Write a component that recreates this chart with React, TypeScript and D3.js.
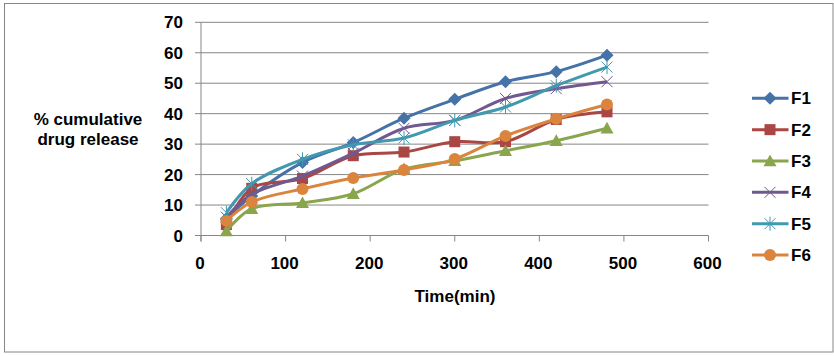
import React from "react";
import * as d3 from "d3";

const times = [30, 60, 120, 180, 240, 300, 360, 420, 480];
const F1 = [5.5, 13, 24, 30.5, 38.5, 44.7, 50.5, 53.8, 59.2];
const F2 = [3.6, 15.5, 18.7, 26.2, 27.4, 30.8, 30.8, 38.1, 40.6];
const F3 = [1.5, 8.8, 10.7, 13.7, 21.8, 24.5, 27.8, 31.1, 35.2];
const F4 = [6, 13.5, 19.5, 27, 35.2, 37.8, 45, 48.2, 50.5];
const F5 = [7.5, 17, 25, 29.8, 32, 37.8, 42.2, 49.2, 55.3];
const F6 = [4.8, 11, 15.3, 18.9, 21.5, 25.1, 32.7, 38.3, 43];
const seriesNames = ["F1", "F2", "F3", "F4", "F5", "F6"];
const seriesValues = [F1, F2, F3, F4, F5, F6];
const colors = ["#4572A7", "#AA4643", "#89A54E", "#71588F", "#4198AF", "#DB843D"];
const markers = ["diamond", "square", "triangle", "x", "star", "circle"];
const xTicks = [0, 100, 200, 300, 400, 500, 600];
const yTicks = [0, 10, 20, 30, 40, 50, 60, 70];

const font = "'Liberation Sans', Arial, sans-serif";
const FS = 17;

function Marker({ type, x, y, color }: { type: string; x: number; y: number; color: string }) {
  if (type === "diamond") {
    const s = 6.5;
    return <path d={`M${x},${y - s}L${x + s},${y}L${x},${y + s}L${x - s},${y}Z`} fill={color} />;
  }
  if (type === "square") {
    const s = 5.5;
    return <rect x={x - s} y={y - s} width={2 * s} height={2 * s} fill={color} />;
  }
  if (type === "triangle") {
    const s = 6.5;
    return <path d={`M${x},${y - s}L${x + s},${y + s * 0.8}L${x - s},${y + s * 0.8}Z`} fill={color} />;
  }
  if (type === "circle") {
    return <circle cx={x} cy={y} r={6} fill={color} />;
  }
  if (type === "x") {
    const s = 5.5;
    return (
      <path d={`M${x - s},${y - s}L${x + s},${y + s}M${x - s},${y + s}L${x + s},${y - s}`} stroke={color} strokeWidth={1} fill="none" />
    );
  }
  const s = 5.5;
  return (
    <path
      d={`M${x - s},${y - s}L${x + s},${y + s}M${x - s},${y + s}L${x + s},${y - s}M${x},${y - s - 1.5}L${x},${y + s + 1.5}`}
      stroke={color}
      strokeWidth={1}
      fill="none"
    />
  );
}

export default function App() {
  const W = 834;
  const H = 356;
  const x = d3.scaleLinear().domain([0, 600]).range([201, 708.5]);
  const y = d3.scaleLinear().domain([0, 70]).range([235.5, 22.3]);
  const line = d3
    .line<number>()
    .x((_, i) => x(times[i]))
    .y((d) => y(d))
    .curve(d3.curveCatmullRom.alpha(0.5));

  const legendY0 = 98.3;
  const legendStep = 31.35;

  return (
    <svg width={W} height={H} style={{ position: "absolute", left: 0, top: 0 }}>
      <rect x={0} y={0} width={W} height={H} fill="#fff" />
      <rect x={4.5} y={3.5} width={828.5} height={348.5} fill="none" stroke="#868686" strokeWidth={1} />
      {yTicks.map((t) => (
        <g key={t}>
          <line x1={x(0)} x2={x(600)} y1={y(t)} y2={y(t)} stroke="#868686" strokeWidth={1} />
          <line x1={x(0) - 6} x2={x(0)} y1={y(t)} y2={y(t)} stroke="#868686" strokeWidth={1} />
          <text x={183} y={y(t) + 6} textAnchor="end" fontFamily={font} fontWeight="bold" fontSize={FS}>
            {t}
          </text>
        </g>
      ))}
      <line x1={x(0)} x2={x(0)} y1={y(70)} y2={y(0) + 6} stroke="#868686" strokeWidth={1} />
      {xTicks.map((t) => (
        <g key={t}>
          <line x1={x(t)} x2={x(t)} y1={y(0)} y2={y(0) + 6} stroke="#868686" strokeWidth={1} />
          <text x={x(t) - 1} y={268.5} textAnchor="middle" fontFamily={font} fontWeight="bold" fontSize={FS}>
            {t}
          </text>
        </g>
      ))}
      {seriesValues.map((vals, si) => (
        <g key={si}>
          <path d={line(vals) || ""} fill="none" stroke={colors[si]} strokeWidth={3} strokeLinejoin="round" />
          {vals.map((v, i) => (
            <Marker key={i} type={markers[si]} x={x(times[i])} y={y(v)} color={colors[si]} />
          ))}
        </g>
      ))}
      <text x={88} y={125} textAnchor="middle" fontFamily={font} fontWeight="bold" fontSize={FS}>
        % cumulative
      </text>
      <text x={88} y={145} textAnchor="middle" fontFamily={font} fontWeight="bold" fontSize={FS}>
        drug release
      </text>
      <text x={455} y={302} textAnchor="middle" fontFamily={font} fontWeight="bold" fontSize={FS}>
        Time(min)
      </text>
      {seriesNames.map((n, si) => {
        const ly = legendY0 + si * legendStep;
        return (
          <g key={n}>
            <line x1={752} x2={788.5} y1={ly} y2={ly} stroke={colors[si]} strokeWidth={3} />
            <Marker type={markers[si]} x={770} y={ly} color={colors[si]} />
            <text x={791} y={ly + 6} fontFamily={font} fontWeight="bold" fontSize={FS}>
              {n}
            </text>
          </g>
        );
      })}
    </svg>
  );
}
